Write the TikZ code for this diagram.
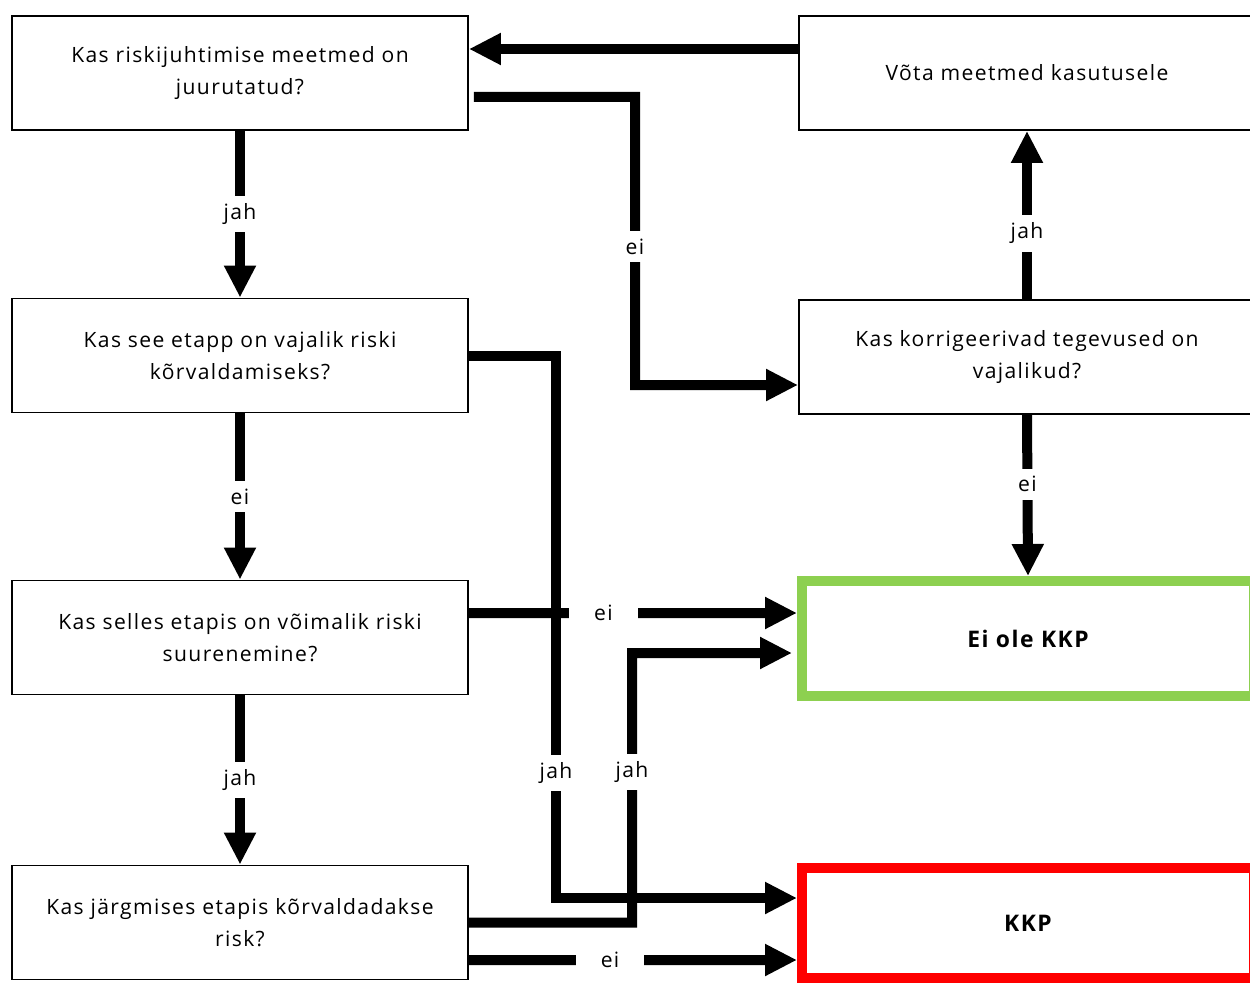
\documentclass[tikz,border=0pt]{standalone}
\usepackage{fontspec}
\setmainfont{Open Sans}[LetterSpace=6.5]
\usetikzlibrary{arrows.meta}

\begin{document}
\begin{tikzpicture}[
  every node/.style={font=\fontsize{12}{18}\selectfont},
  box/.style={draw, line width=1.1pt, minimum width=9.12cm, minimum height=2.28cm, align=center, inner sep=0pt},
  endbox/.style={draw, line width=0.2cm, minimum width=9.04cm, align=center, font=\fontsize{13}{18}\selectfont\bfseries},
  flow/.style={line width=0.2cm, -{Triangle[length=0.64cm, width=0.6cm]}},
  lbl/.style={fill=white, inner xsep=0.5cm, inner ysep=0.15cm}
]
  \useasboundingbox (0,0) rectangle (25,-19.66);

  % Questions on the left
  \node[box] (q1) at (4.8,-1.46) {Kas riskijuhtimise meetmed on\\juurutatud?};
  \node[box] (q2) at (4.8,-7.11) {Kas see etapp on vajalik riski\\kõrvaldamiseks?};
  \node[box] (q3) at (4.8,-12.75) {Kas selles etapis on võimalik riski\\suurenemine?};
  \node[box] (q4) at (4.8,-18.45) {Kas järgmises etapis kõrvaldadakse\\risk?};

  % Right column
  \node[box] (act) at (20.54,-1.46) {Võta meetmed kasutusele};
  \node[box] (corr) at (20.54,-7.14) {Kas korrigeerivad tegevused on\\vajalikud?};
  \node[endbox, draw={rgb,255:red,141;green,208;blue,80}, minimum height=2.3cm] (nokkp) at (20.56,-12.77) {Ei ole KKP};
  \node[endbox, draw=red, minimum height=2.2cm] (kkp) at (20.56,-18.46) {KKP};

  % Main column
  \draw[flow] (q1.south) -- node[lbl] {jah} (q2.north);
  \draw[flow] (q2.south) -- node[lbl] {ei} (q3.north);
  \draw[flow] (q3.south) -- node[lbl] {jah} (q4.north);

  % Back to the first question
  \draw[flow] ([yshift=0.48cm]act.west) -- ([yshift=0.48cm]q1.east);
  \draw[flow] ([shift={(0.1,-0.48)}]q1.east) -- (12.7,-1.94) -- node[lbl, pos=0.52] {ei} (12.7,-7.7) -- ([yshift=-0.56cm]corr.west);
  \draw[flow] (corr.north) -- node[lbl, pos=0.39] {jah} (act.south);
  \draw[flow] (corr.south) -- node[lbl, pos=0.43] {ei} (nokkp.north);

  % To the results
  \draw[flow] (q2.east) -- (11.12,-7.11) -- node[lbl, pos=0.77] {jah} (11.12,-17.96) -- ([yshift=0.5cm]kkp.west);
  \draw[flow] ([yshift=0.49cm]q3.east) -- node[lbl, pos=0.41] {ei} ([yshift=0.51cm]nokkp.west);
  \draw[flow] (q4.east) -- (12.64,-18.45) -- node[lbl, pos=0.56] {jah} (12.64,-13.06) -- ([shift={(-0.1,-0.29)}]nokkp.west);
  \draw[flow] ([yshift=-0.75cm]q4.east) -- node[lbl, pos=0.43] {ei} ([yshift=-0.74cm]kkp.west);
\end{tikzpicture}
\end{document}
